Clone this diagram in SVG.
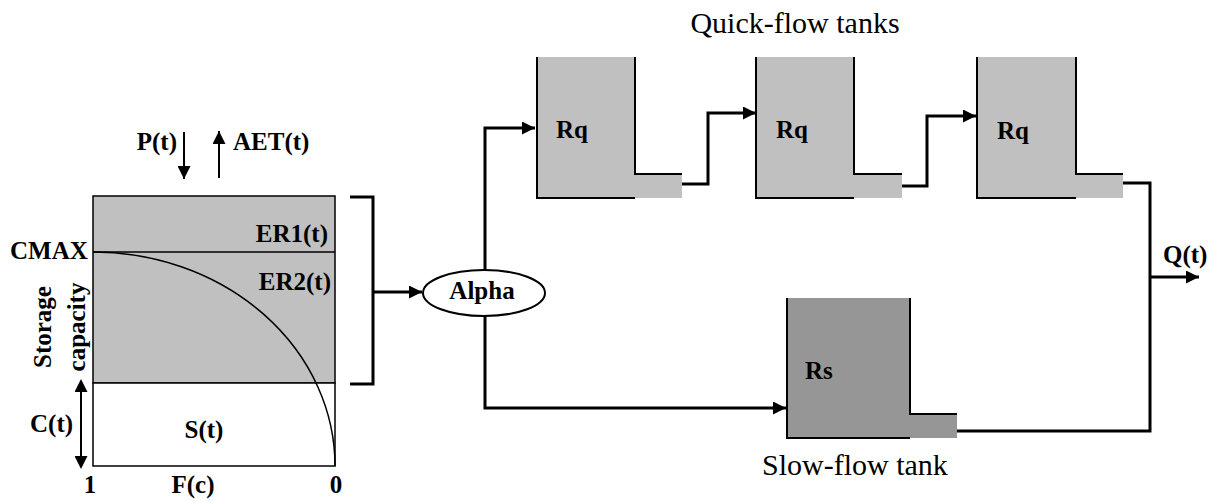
<svg xmlns="http://www.w3.org/2000/svg" width="1215" height="501" viewBox="0 0 1215 501">
<style>
.b{font-family:"Liberation Serif","Times New Roman",serif;font-weight:bold;font-size:25px;fill:#000}
.r{font-family:"Liberation Serif","Times New Roman",serif;font-size:30px;fill:#000}
.con{fill:none;stroke:#000;stroke-width:3}
.thin{fill:none;stroke:#000;stroke-width:2}
.wall{fill:none;stroke:#000;stroke-width:2}
.lq{fill:#c0c0c0;stroke:none}
.ls{fill:#969696;stroke:none}
</style>
<defs>
<marker id="ah" viewBox="0 0 10 10" refX="10" refY="5" markerWidth="15" markerHeight="13" markerUnits="userSpaceOnUse" orient="auto">
<path d="M0,0 L10,5 L0,10 z" fill="#000"/>
</marker>
<marker id="ahs" viewBox="0 0 10 10" refX="0" refY="5" markerWidth="15" markerHeight="13" markerUnits="userSpaceOnUse" orient="auto-start-reverse">
<path d="M0,0 L10,5 L0,10 z" fill="#000"/>
</marker>
</defs>
<rect width="1215" height="501" fill="#fff"/>

<g id="soil-store">
<rect x="93" y="196" width="242" height="187" fill="#c0c0c0" stroke="#000" stroke-width="1.5"/>
<rect x="93" y="383" width="242" height="83" fill="#fff" stroke="#000" stroke-width="1.5"/>
<line x1="93" y1="252" x2="335" y2="252" stroke="#000" stroke-width="1.5"/>
<path d="M93,252 A242,214 0 0 1 335,466" fill="none" stroke="#000" stroke-width="1.5"/>
<text class="b" x="328" y="242" text-anchor="end">ER1(t)</text>
<text class="b" x="331" y="290" text-anchor="end">ER2(t)</text>
<text class="b" x="204" y="438" text-anchor="middle">S(t)</text>
<text class="b" x="10" y="259">CMAX</text>
<text class="b" transform="translate(51,327) rotate(-90)" text-anchor="middle">Storage</text>
<text class="b" transform="translate(85,327) rotate(-90)" text-anchor="middle">capacity</text>
<text class="b" x="30" y="432">C(t)</text>
<text class="b" x="90" y="493" text-anchor="middle">1</text>
<text class="b" x="193" y="493" text-anchor="middle">F(c)</text>
<text class="b" x="336" y="493" text-anchor="middle">0</text>
<text class="b" x="177" y="150" text-anchor="end">P(t)</text>
<text class="b" x="233" y="150">AET(t)</text>
</g>

<g id="alpha">
<ellipse cx="484" cy="293" rx="61" ry="23" fill="#fff" stroke="#000" stroke-width="2"/>
<text class="b" x="482" y="299" text-anchor="middle">Alpha</text>
</g>

<g id="quick-tank-1">
<path class="lq" d="M537,57 H635 V174 H682 V198 H537 Z"/>
<path class="wall" d="M537,57 V198 H635"/>
<path class="wall" d="M635,57 V174 H682"/>
<text class="b" x="556" y="138">Rq</text>
</g>
<g id="quick-tank-2">
<path class="lq" d="M756,57 H854 V174 H902 V198 H756 Z"/>
<path class="wall" d="M756,57 V198 H854"/>
<path class="wall" d="M854,57 V174 H902"/>
<text class="b" x="776" y="138">Rq</text>
</g>
<g id="quick-tank-3">
<path class="lq" d="M977,57 H1076 V174 H1123 V198 H977 Z"/>
<path class="wall" d="M977,57 V198 H1076"/>
<path class="wall" d="M1076,57 V174 H1123"/>
<text class="b" x="997" y="139">Rq</text>
</g>
<g id="slow-tank">
<path class="ls" d="M787,298 H910 V414 H957 V438 H787 Z"/>
<path class="wall" d="M787,298 V438 H910"/>
<path class="wall" d="M910,298 V414 H957"/>
<text class="b" x="805" y="379">Rs</text>
</g>

<g id="labels">
<text class="r" x="795" y="33" text-anchor="middle">Quick-flow tanks</text>
<text class="r" x="762" y="475">Slow-flow tank</text>
<text class="b" x="1163" y="263">Q(t)</text>
</g>

<g id="connectors">
<line class="thin" x1="184" y1="132" x2="184" y2="179" marker-end="url(#ah)"/>
<line class="thin" x1="219" y1="178" x2="219" y2="131" marker-end="url(#ah)"/>
<line class="thin" x1="81" y1="392" x2="81" y2="456" marker-start="url(#ahs)" marker-end="url(#ahs)"/>
<polyline class="con" points="350,197 373,197 373,384 350,384"/>
<line class="con" x1="373" y1="292" x2="422" y2="292" marker-end="url(#ah)"/>
<polyline class="con" points="485,270 485,128 535,128" marker-end="url(#ah)"/>
<polyline class="con" points="485,316 485,408 786,408" marker-end="url(#ah)"/>
<polyline class="con" points="682,184 708,184 708,113 756,113" marker-end="url(#ah)"/>
<polyline class="con" points="902,186 927,186 927,116 976,116" marker-end="url(#ah)"/>
<polyline class="con" points="1123,183 1150,183 1150,431 957,431"/>
<line class="con" x1="1150" y1="277" x2="1199" y2="277" marker-end="url(#ah)"/>
</g>
</svg>
